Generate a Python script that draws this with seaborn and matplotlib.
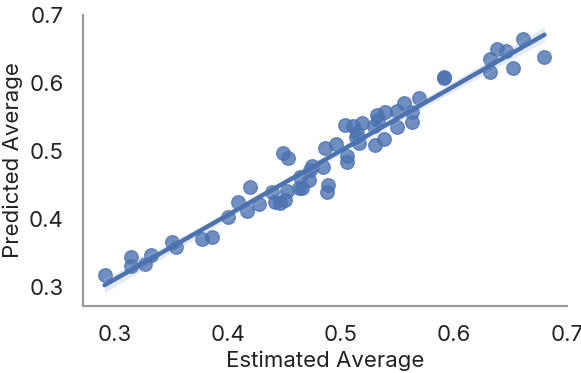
import numpy as np
import pandas as pd
import seaborn as sns
from matplotlib import pyplot as plt

# values
estimated = [0.291, 0.314, 0.314, 0.327, 0.332, 0.351, 0.354, 0.377, 0.386, 0.400,
             0.409, 0.417, 0.420, 0.428, 0.439, 0.442, 0.446, 0.451, 0.452, 0.449,
             0.453, 0.463, 0.464, 0.466, 0.472, 0.473, 0.474, 0.484, 0.486, 0.489,
             0.488, 0.496, 0.504, 0.511, 0.519, 0.514, 0.513, 0.516, 0.505, 0.505,
             0.529, 0.530, 0.538, 0.532, 0.533, 0.539, 0.550, 0.550, 0.556, 0.563,
             0.563, 0.569, 0.591, 0.591, 0.632, 0.632, 0.638, 0.646, 0.652, 0.661,
             0.680]
predicted = [0.318, 0.344, 0.331, 0.334, 0.347, 0.366, 0.358, 0.370, 0.374, 0.403,
             0.425, 0.412, 0.447, 0.422, 0.440, 0.425, 0.423, 0.428, 0.441, 0.497,
             0.489, 0.445, 0.462, 0.445, 0.457, 0.472, 0.478, 0.476, 0.504, 0.450,
             0.440, 0.510, 0.538, 0.536, 0.541, 0.526, 0.521, 0.511, 0.492, 0.484,
             0.536, 0.509, 0.518, 0.553, 0.546, 0.557, 0.558, 0.535, 0.570, 0.557,
             0.542, 0.578, 0.609, 0.607, 0.635, 0.616, 0.650, 0.647, 0.622, 0.664,
             0.638]

df = pd.DataFrame({"Estimated Average": estimated, "Predicted Average": predicted})

sns.set_theme(style="white")
plt.rcParams['font.family'] = ['Inter', 'DejaVu Sans']

fig = plt.figure(figsize=(5.81, 3.73), dpi=100)
ax = fig.add_axes([0.143, 0.180, 0.833, 0.780])

sns.regplot(
    data=df,
    x="Estimated Average",
    y="Predicted Average",
    color="#4C72B0",
    scatter_kws={"s": 95, "alpha": 0.8},
    line_kws={"lw": 3.2},
    seed=0,
    ax=ax,
)

ax.set_xlim(0.272, 0.70)
ax.set_ylim(0.272, 0.70)
ax.set_xticks([0.3, 0.4, 0.5, 0.6, 0.7])
ax.set_yticks([0.3, 0.4, 0.5, 0.6, 0.7])
ax.tick_params(labelsize=16, colors="#222222", pad=8)
ax.set_xlabel("Estimated Average", fontsize=16, color="#222222", labelpad=4)
ax.set_ylabel("Predicted Average", fontsize=16, color="#222222", labelpad=4)

sns.despine(ax=ax)
for side in ["left", "bottom"]:
    ax.spines[side].set_color("#999999")
    ax.spines[side].set_linewidth(1.5)

plt.savefig("out.png", dpi=100)
